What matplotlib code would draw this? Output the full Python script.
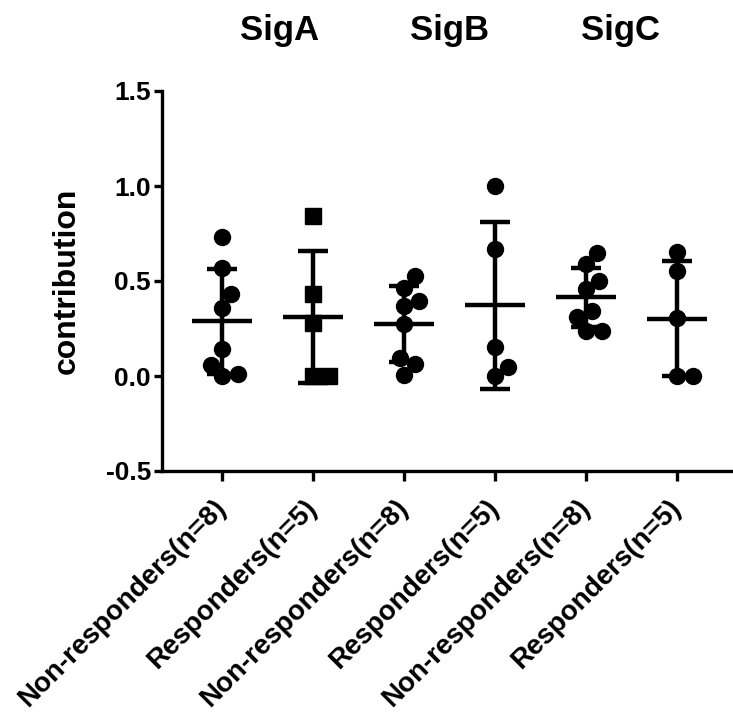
import numpy as np
import matplotlib
matplotlib.use("Agg")
import matplotlib.pyplot as plt

# group labels and the values
labels = ["Non-responders(n=8)", "Responders(n=5)",
          "Non-responders(n=8)", "Responders(n=5)",
          "Non-responders(n=8)", "Responders(n=5)"]
signatures = ["SigA", "SigB", "SigC"]

sigA_non = [0.73, 0.57, 0.43, 0.36, 0.14, 0.06, 0.00, 0.01]
sigA_resp = [0.84, 0.43, 0.28, 0.00, 0.00]
sigB_non = [0.526, 0.465, 0.396, 0.368, 0.274, 0.093, 0.063, 0.005]
sigB_resp = [1.00, 0.667, 0.151, 0.046, 0.00]
sigC_non = [0.646, 0.588, 0.50, 0.456, 0.342, 0.309, 0.239, 0.239]
sigC_resp = [0.651, 0.553, 0.307, 0.00, 0.00]

groups = [sigA_non, sigA_resp, sigB_non, sigB_resp, sigC_non, sigC_resp]
markers = ["o", "s", "o", "o", "o", "o"]

plt.rcParams["font.family"] = ["Liberation Sans", "DejaVu Sans"]
plt.rcParams["font.weight"] = "bold"

fig = plt.figure(figsize=(7.33, 7.18), dpi=100)
ax = fig.add_axes([162 / 733, 1 - 471 / 718, 1 - 162 / 733, (471 - 91) / 718])
ax.set_xlim(0.34, 6.62)
ax.set_ylim(-0.5, 1.5)

# pixel scale for simple swarm layout
px_x = 91.0   # pixels per x unit
px_y = 190.0  # pixels per y unit (0.5 step = 95 px)
diam = 16.0


def swarm(vals):
    order = np.argsort(vals)
    placed = []
    offs = np.zeros(len(vals))
    cands = [0.0]
    for k in np.arange(0.5, 60, 0.5):
        cands += [k, -k]
    for i in order:
        y = vals[i] * px_y
        for c in cands:
            ok = all((c - ox) ** 2 + (y - oy) ** 2 >= (diam * 0.98) ** 2 for ox, oy in placed)
            if ok:
                offs[i] = c
                placed.append((c, y))
                break
    return offs / px_x


lw = 3.2
for i, vals in enumerate(groups):
    x0 = i + 1
    v = np.array(vals)
    m = v.mean()
    sd = v.std(ddof=1)
    xs = x0 + swarm(v)
    ax.plot(xs, v, linestyle="none", marker=markers[i], ms=11.5,
            color="black", zorder=3)
    ax.hlines(m, x0 - 0.33, x0 + 0.33, color="black", lw=lw, zorder=4)
    ax.vlines(x0, m - sd, m + sd, color="black", lw=lw, zorder=4)
    ax.hlines([m - sd, m + sd], x0 - 0.165, x0 + 0.165, color="black", lw=lw, zorder=4)

for s in ["top", "right"]:
    ax.spines[s].set_visible(False)
for s in ["left", "bottom"]:
    ax.spines[s].set_linewidth(2.4)

ax.set_yticks([-0.5, 0.0, 0.5, 1.0, 1.5])
ax.set_yticklabels(["-0.5", "0.0", "0.5", "1.0", "1.5"])
ax.tick_params(axis="y", length=6, width=2.4, labelsize=19, pad=2)
ax.set_xticks(range(1, 7))
ax.set_xticklabels(labels, rotation=45, ha="right", va="center",
                   rotation_mode="anchor", fontsize=20)
ax.tick_params(axis="x", length=7.5, width=2.4, pad=16)

ax.set_ylabel("contribution", fontsize=23, fontweight="bold", labelpad=17)

for name, fx in zip(signatures, [280 / 733, 450 / 733, 621 / 733]):
    fig.text(fx, 1 - 40 / 718, name, ha="center", va="baseline",
             fontsize=25, fontweight="bold")

fig.savefig("out.png", dpi=100)
